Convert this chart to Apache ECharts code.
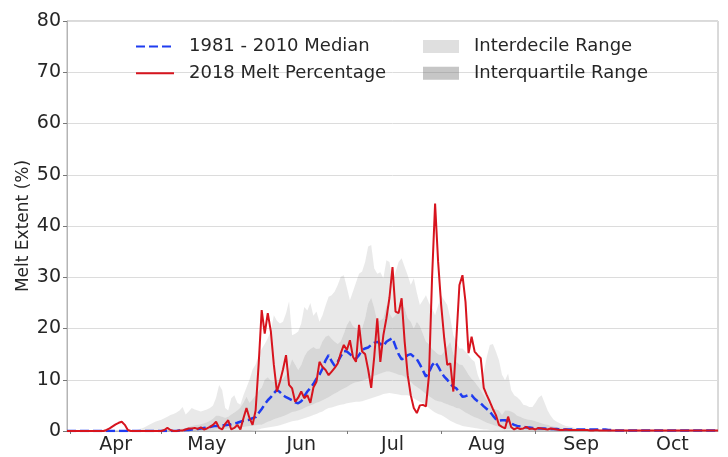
<!DOCTYPE html>
<html>
<head>
<meta charset="utf-8">
<script src="https://cdn.jsdelivr.net/npm/echarts@6/dist/echarts.min.js"></script>
<style>html,body{margin:0;padding:0;background:#fff}#c{width:728px;height:457px}</style>
</head>
<body>
<div id="c"></div>
<script>
// Calendar (first category = Mar 31, last = Oct 31)
const monthNames = ['Mar','Apr','May','Jun','Jul','Aug','Sep','Oct'];
const monthLengths = [31,30,31,30,31,31,30,31];
const firstDayOfFirstMonth = 31;
const tickDay = '1';     // ticks at month starts
const labelDay = '16';   // month names centred mid-month
const yTicks = [0,10,20,30,40,50,60,70,80];

// 2018 melt percentage (daily, Mar 31 .. Oct 31)
const melt2018 = [
 0,0,0,0,0,0,0,0,0,0,
 0,0,0,0.2,0.5,0.9,1.3,1.6,1.8,1.2,
 0.2,0,0,0,0,0,0,0,0,0,
 0,0,0.2,0.6,0.2,0,0,0.1,0.1,0.3,
 0.5,0.5,0.6,0.4,0.7,0.3,0.5,0.8,1.2,1.8,
 0.6,0.3,1.4,2.1,0.3,0.6,1.2,0.3,2.5,4.5,
 2.5,1.2,4.0,13.0,23.6,19.0,23.0,19.5,12.9,7.7,
 9.6,12.0,14.8,9.0,8.3,5.7,6.5,7.7,6.4,7.0,
 5.5,8.5,9.6,13.5,12.5,11.9,10.9,11.6,12.3,13.2,
 15.2,16.8,15.8,17.7,14.5,13.5,20.7,15.5,15.0,12.0,
 8.4,14.5,22.0,13.5,18.7,22.0,26.0,32.0,23.3,23.0,
 25.9,17.4,10.9,7.0,4.5,3.5,5.0,5.1,4.8,10.9,
 29.8,44.4,33.0,24.6,18.1,12.9,13.2,7.7,18.0,28.5,
 30.4,25.2,15.2,18.4,15.5,14.8,14.2,8.4,7.0,5.7,
 4.3,3.1,1.2,0.8,0.5,2.8,0.8,0.3,0.6,0.4,
 0.5,0.8,0.4,0.5,0.3,0.6,0.5,0.4,0.3,0.5,
 0.4,0.3,0.2,0.2,0.3,0.2,0.2,0.2,0.2,0.2,
 0.2,0.2,0.1,0.1,0.2,0.1,0.1,0.1,0.1,0.1,
 0.1,0.1,0.1,0.1,0.1,0.1,0.1,0.1,0.1,0.1,
 0.1,0.1,0.1,0.1,0.1,0.1,0.1,0.1,0.1,0.1,
 0.1,0.1,0.1,0.1,0.1,0.1,0.1,0.1,0.1,0.1,
 0.1,0.1,0.1,0.1,0.1
];

// 1981-2010 median
const median = [
 0,0,0,0,0,0,0,0,0,0,
 0,0,0,0,0,0,0,0,0,0,
 0,0,0,0,0,0,0,0,0,0,
 0,0,0,0,0,0,0,0.1,0.1,0.2,
 0.2,0.3,0.3,0.4,0.5,0.6,0.7,0.8,0.9,1.0,
 1.0,1.1,1.1,1.2,1.3,1.5,1.6,1.8,2.0,2.1,
 2.2,2.5,2.7,3.5,4.3,5.2,6.0,6.6,7.4,8.0,
 7.6,7.0,6.6,6.3,6.0,5.6,5.4,5.8,6.8,7.7,
 8.4,9.2,10.2,11.0,12.2,13.8,14.8,13.6,12.7,13.5,
 14.6,15.6,15.5,15.0,14.5,14.1,14.8,15.8,16.1,16.3,
 16.8,17.2,17.4,17.0,16.6,17.4,17.8,18.1,16.5,15.0,
 14.0,14.2,14.8,15.0,14.5,14.0,13.0,11.8,10.6,11.5,
 12.8,13.5,12.6,11.5,10.6,10.0,9.2,8.6,8.3,7.5,
 6.7,6.8,7.0,7.0,6.3,5.8,5.4,4.8,4.3,3.8,
 3.0,2.3,2.0,2.1,2.1,1.9,1.5,1.2,1.0,0.9,
 0.8,0.7,0.7,0.6,0.6,0.5,0.5,0.5,0.4,0.4,
 0.4,0.4,0.3,0.3,0.3,0.3,0.3,0.3,0.3,0.3,
 0.3,0.3,0.3,0.3,0.3,0.3,0.3,0.3,0.2,0.2,
 0.1,0.1,0.1,0.1,0.1,0.1,0.1,0.1,0.1,0.1,
 0.1,0.1,0.1,0.1,0.1,0.1,0.1,0.1,0.1,0.1,
 0.1,0.1,0.1,0.1,0.1,0.1,0.1,0.1,0.1,0.1,
 0.1,0.1,0.1,0.1,0.1
];

// 10th percentile
const p10 = [
 0,0,0,0,0,0,0,0,0,0,
 0,0,0,0,0,0,0,0,0,0,
 0,0,0,0,0,0,0,0,0,0,
 0,0,0,0,0,0,0,0,0,0,
 0,0,0,0,0,0,0,0,0,0,
 0,0,0,0,0,0,0,0,0,0,
 0,0.1,0.2,0.3,0.5,0.6,0.7,0.8,0.9,1.0,
 1.1,1.3,1.5,1.7,1.9,2.0,2.1,2.3,2.5,2.7,
 2.9,3.1,3.3,3.6,3.8,4.2,4.5,4.6,4.8,5.0,
 5.1,5.2,5.4,5.5,5.6,5.7,5.7,5.8,6.0,6.2,
 6.4,6.6,6.8,7.0,7.2,7.3,7.4,7.3,7.2,7.1,
 7.0,7.0,7.0,6.8,6.4,6.0,5.7,5.4,5.0,4.5,
 4.0,3.6,3.3,3.1,2.8,2.4,2.0,1.7,1.4,1.2,
 1.0,0.9,0.8,0.7,0.6,0.5,0.4,0.3,0.3,0.2,
 0.2,0.1,0.1,0.1,0,0,0,0,0,0,
 0,0,0,0,0,0,0,0,0,0,
 0,0,0,0,0,0,0,0,0,0,
 0,0,0,0,0,0,0,0,0,0,
 0,0,0,0,0,0,0,0,0,0,
 0,0,0,0,0,0,0,0,0,0,
 0,0,0,0,0,0,0,0,0,0,
 0,0,0,0,0
];

// 25th percentile
const p25 = [
 0,0,0,0,0,0,0,0,0,0,
 0,0,0,0,0,0,0,0,0,0,
 0,0,0,0,0,0,0,0,0,0,
 0,0,0,0,0,0,0,0,0,0,
 0,0,0,0.1,0.1,0.1,0.2,0.2,0.2,0.3,
 0.3,0.4,0.4,0.5,0.5,0.6,0.6,0.7,0.8,0.9,
 1.0,1.0,1.1,1.2,1.2,1.5,1.8,2.0,2.3,2.5,
 2.7,2.9,3.1,3.4,3.7,3.8,4.0,4.2,4.5,4.8,
 5.0,5.2,5.5,5.7,6.0,6.3,6.6,7.0,7.3,7.6,
 8.0,8.3,8.6,9.0,9.3,9.5,9.6,9.8,10.0,10.3,
 10.5,10.8,11.0,11.2,11.4,11.6,11.6,11.4,11.2,11.0,
 10.9,10.6,10.0,9.6,9.0,8.6,8.2,7.7,7.2,6.8,
 6.4,6.0,5.8,5.7,5.4,5.2,5.0,4.8,4.5,4.4,
 4.0,3.6,3.3,3.0,2.7,2.5,2.2,1.9,1.6,1.4,
 1.2,1.0,0.8,0.7,0.5,0.4,0.4,0.3,0.3,0.3,
 0.2,0.2,0.2,0.2,0.1,0.1,0.1,0.1,0.1,0.1,
 0,0,0,0,0,0,0,0,0,0,
 0,0,0,0,0,0,0,0,0,0,
 0,0,0,0,0,0,0,0,0,0,
 0,0,0,0,0,0,0,0,0,0,
 0,0,0,0,0,0,0,0,0,0,
 0,0,0,0,0
];

// 75th percentile
const p75 = [
 0,0,0,0,0,0,0,0,0,0,
 0,0,0,0,0,0,0,0,0,0,
 0,0,0,0,0,0,0,0,0,0,
 0,0,0.1,0.1,0.2,0.2,0.3,0.4,0.5,0.6,
 0.8,1.0,1.1,1.2,1.3,1.5,1.7,2.0,2.4,3.0,
 3.0,2.8,2.6,2.8,3.2,3.6,4.0,4.6,5.5,6.7,
 5.5,6.2,7.0,7.8,8.5,10.0,10.5,9.8,9.6,9.8,
 10.0,10.2,11.0,12.2,14.0,13.0,11.9,12.9,14.5,15.5,
 16.0,16.4,16.0,16.1,17.5,18.4,18.7,18.0,17.4,17.0,
 17.5,19.0,20.7,21.6,20.5,20.0,19.5,20.0,22.0,24.9,
 26.0,24.0,21.3,21.6,22.0,24.6,23.0,22.0,22.6,23.5,
 24.6,24.0,22.0,21.3,20.0,21.3,20.5,19.0,17.4,17.0,
 16.0,15.5,15.0,14.8,15.5,16.5,17.4,15.0,13.5,13.0,
 12.9,12.0,11.0,10.2,9.6,8.8,8.0,7.0,6.0,5.0,
 4.4,4.2,4.0,3.1,4.0,4.0,3.8,3.5,3.0,2.8,
 2.5,2.3,2.2,2.1,1.9,1.7,1.5,1.3,1.2,1.0,
 0.9,0.8,0.7,0.6,0.6,0.5,0.5,0.4,0.4,0.3,
 0.3,0.3,0.2,0.2,0.2,0.2,0.2,0.2,0.1,0.1,
 0.1,0.1,0.1,0.1,0.1,0.1,0.1,0.1,0.1,0.1,
 0.1,0.1,0.1,0.1,0.1,0.1,0.1,0.1,0.1,0.1,
 0.1,0.1,0.1,0.1,0.1,0.1,0.1,0.1,0.1,0.1,
 0.1,0.1,0.1,0.1,0.1
];

// 90th percentile
const p90 = [
 0,0,0,0,0,0,0,0,0,0,
 0,0,0,0,0,0,0,0,0,0,
 0,0,0,0.2,0.4,0.6,0.9,1.2,1.5,1.8,
 2.0,2.2,2.5,2.8,3.1,3.3,3.6,4.0,4.7,3.2,
 3.8,4.5,4.2,4.0,3.8,4.0,4.2,4.5,5.0,6.5,
 9.0,8.0,4.5,4.0,6.4,7.0,5.5,5.1,7.0,8.5,
 10.0,12.0,13.0,14.8,16.0,17.0,18.1,19.5,22.6,21.5,
 21.0,21.3,23.0,25.3,18.7,19.0,19.4,21.0,24.2,23.5,
 25.0,22.5,23.3,21.3,22.6,24.5,26.2,26.5,27.2,28.5,
 30.1,30.4,28.0,25.5,27.2,29.0,30.7,31.1,33.0,36.0,
 36.3,31.7,30.7,31.0,29.8,33.3,33.0,29.2,31.0,33.0,
 33.7,32.0,30.4,28.5,29.8,27.0,24.6,25.5,26.5,25.0,
 24.0,22.6,24.5,26.5,25.5,24.6,22.0,18.7,17.5,16.1,
 16.1,15.5,14.8,14.0,13.5,11.0,9.5,11.5,14.5,16.8,
 17.0,15.5,13.8,11.0,9.9,11.2,8.0,7.0,6.6,6.0,
 5.1,5.0,4.7,4.7,5.5,6.5,7.0,5.5,4.0,3.0,
 2.2,1.8,1.5,1.2,1.0,0.9,0.8,0.6,0.6,0.5,
 0.5,0.5,0.4,0.4,0.4,0.3,0.3,0.3,0.3,0.3,
 0.3,0.3,0.3,0.2,0.2,0.2,0.2,0.2,0.2,0.2,
 0.2,0.2,0.2,0.2,0.2,0.2,0.2,0.2,0.2,0.2,
 0.1,0.1,0.1,0.1,0.1,0.1,0.1,0.1,0.1,0.1,
 0.1,0.1,0.1,0.1,0.1
];

// ---- build categories ----
const categories = [];
for (let m = 0; m < monthNames.length; m++) {
  for (let d = (m === 0 ? firstDayOfFirstMonth : 1); d <= monthLengths[m]; d++) {
    categories.push(monthNames[m] + ' ' + d);
  }
}
const diff = (a, b) => a.map((v, i) => Math.max(0, v - b[i]));

const FONT = 'DejaVu Sans';
const TXT = '#262626';
const LIGHT = 'rgba(150,150,150,0.30)';
const DARK = 'rgba(120,120,120,0.42)';

const bandBase = { type: 'line', stack: 'band', symbol: 'none', lineStyle: { width: 0, opacity: 0 }, silent: true, z: 1 };

const chart = echarts.init(document.getElementById('c'), null, { renderer: 'canvas' });
chart.setOption({
  animation: false,
  backgroundColor: '#fff',
  textStyle: { fontFamily: FONT },
  grid: { left: 67, right: 10, top: 21, bottom: 26, show: true, borderColor: '#b4b4b4', borderWidth: 1, backgroundColor: 'transparent' },
  legend: [
    {
      left: 135, top: 36.5, padding: 0, orient: 'vertical', itemWidth: 38, itemHeight: 13, itemGap: 6.7,
      itemStyle: { opacity: 0 },
      data: ['1981 - 2010 Median', '2018 Melt Percentage'],
      textStyle: { fontSize: 18, color: TXT, fontFamily: FONT, padding: [0, 0, 0, 10], lineHeight: 20 }
    },
    {
      left: 423, top: 36.5, padding: 0, orient: 'vertical', itemWidth: 36, itemHeight: 13, itemGap: 6.7, icon: 'rect',
      data: ['Interdecile Range', 'Interquartile Range'],
      textStyle: { fontSize: 18, color: TXT, fontFamily: FONT, padding: [0, 0, 0, 10], lineHeight: 20 }
    }
  ],
  xAxis: {
    type: 'category', data: categories, boundaryGap: false,
    axisLine: { show: true, lineStyle: { color: '#b4b4b4', width: 1 } },
    axisTick: { show: true, length: 3, lineStyle: { color: '#777' }, interval: (i, v) => v.split(' ')[1] === tickDay },
    axisLabel: {
      interval: (i, v) => v.split(' ')[1] === labelDay,
      formatter: v => v.split(' ')[0],
      fontSize: 19, color: TXT, fontFamily: FONT, margin: 5
    },
    splitLine: { show: false }
  },
  yAxis: {
    type: 'value', min: yTicks[0], max: yTicks[yTicks.length - 1], interval: yTicks[1] - yTicks[0],
    name: 'Melt Extent (%)', nameLocation: 'middle', nameGap: 35, nameMoveOverlap: false,
    nameTextStyle: { fontSize: 17, color: TXT, fontFamily: FONT },
    axisLine: { show: true, lineStyle: { color: '#b4b4b4', width: 1 } },
    axisTick: { show: true, length: 4, lineStyle: { color: '#777' } },
    axisLabel: { fontSize: 19, color: TXT, fontFamily: FONT, margin: 6 },
    splitLine: { show: true, lineStyle: { color: '#dcdcdc', width: 1 } }
  },
  series: [
    Object.assign({}, bandBase, { name: 'base', data: p10 }),
    Object.assign({}, bandBase, { name: 'Interdecile Range', data: diff(p25, p10), itemStyle: { color: LIGHT }, areaStyle: { color: LIGHT } }),
    Object.assign({}, bandBase, { name: 'Interquartile Range', data: diff(p75, p25), itemStyle: { color: DARK }, areaStyle: { color: DARK } }),
    Object.assign({}, bandBase, { name: 'Interdecile Range', data: diff(p90, p75), itemStyle: { color: LIGHT }, areaStyle: { color: LIGHT } }),
    {
      name: '1981 - 2010 Median', type: 'line', data: median, symbol: 'none', z: 3,
      itemStyle: { color: '#1f3cf0' },
      lineStyle: { color: '#1f3cf0', width: 2.5, type: [9, 4] }
    },
    {
      name: '2018 Melt Percentage', type: 'line', data: melt2018, symbol: 'none', z: 4,
      itemStyle: { color: '#d7141e' },
      lineStyle: { color: '#d7141e', width: 2 }
    }
  ]
});
</script>
</body>
</html>
